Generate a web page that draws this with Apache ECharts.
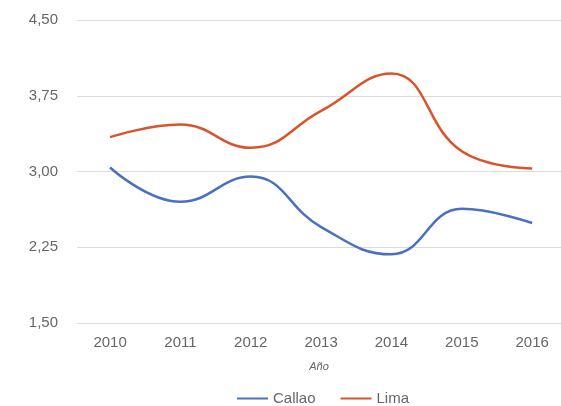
<!DOCTYPE html>
<html>
<head>
<meta charset="utf-8">
<script src="https://cdn.jsdelivr.net/npm/echarts@6/dist/echarts.min.js"></script>
<style>html,body{margin:0;padding:0;background:#fff}#c{width:561px;height:406px}</style>
</head>
<body>
<div id="c"></div>
<script>
const years = [2010, 2011, 2012, 2013, 2014, 2015, 2016];
const callao = [3.04, 2.70, 2.95, 2.45, 2.18, 2.63, 2.49];
const lima = [3.34, 3.465, 3.235, 3.60, 3.97, 3.20, 3.03];
const yTicks = [1.5, 2.25, 3.0, 3.75, 4.5];

const chart = echarts.init(document.getElementById('c'));
const font = '"Liberation Sans", Arial, sans-serif';
chart.setOption({
  animation: false,
  textStyle: { fontFamily: font },
  grid: { left: 77, right: 0, top: 20, bottom: 83 },
  xAxis: {
    type: 'value', min: 2009.53, max: 2016.41,
    name: 'Año', nameLocation: 'middle', nameGap: 38,
    nameTextStyle: { fontStyle: 'italic', fontSize: 11, color: '#666', fontFamily: font },
    axisLine: { show: false }, axisTick: { show: false }, splitLine: { show: false },
    axisLabel: { customValues: years, formatter: v => String(Math.round(v)), color: '#666', fontSize: 15, margin: 12, fontFamily: font }
  },
  yAxis: {
    type: 'value', min: 1.5, max: 4.5, interval: 0.75,
    axisLine: { show: false }, axisTick: { show: false },
    splitLine: { lineStyle: { color: '#dcdcdc', width: 1 } },
    axisLabel: { customValues: yTicks, formatter: v => v.toFixed(2).replace('.', ','), color: '#666', fontSize: 15, margin: 19, fontFamily: font }
  },
  legend: {
    top: 386, left: 232, itemWidth: 31, itemHeight: 2, itemGap: 25,
    icon: 'rect',
    textStyle: { color: '#666', fontSize: 15, fontFamily: font },
    data: ['Callao', 'Lima']
  },
  series: [
    { name: 'Callao', type: 'line', smooth: 0.45, symbol: 'none', color: '#4a70c0', lineStyle: { width: 2.5 },
      data: years.map((y, i) => [y, callao[i]]) },
    { name: 'Lima', type: 'line', smooth: 0.45, symbol: 'none', color: '#d9542c', lineStyle: { width: 2.5 },
      data: years.map((y, i) => [y, lima[i]]) }
  ]
});
</script>
</body>
</html>
